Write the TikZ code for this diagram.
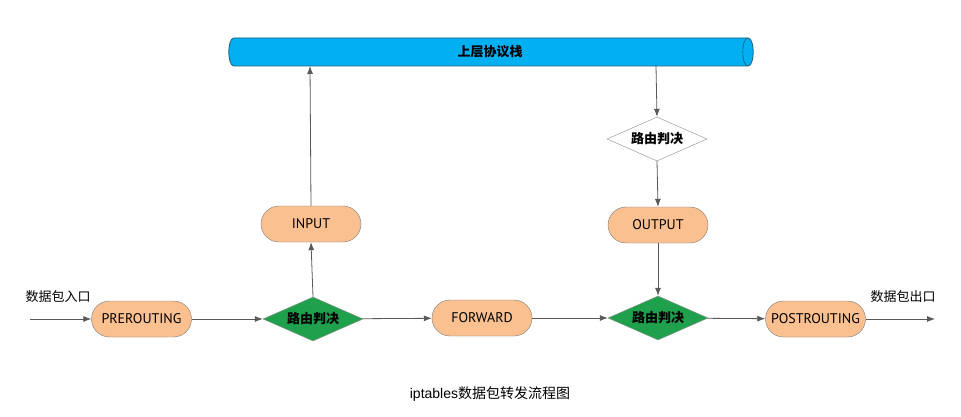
\documentclass[tikz,border=0pt]{standalone}
\usepackage{fontspec}
\setmainfont{Liberation Sans}
\newfontfamily\cjk{Noto Sans CJK SC}
\newfontfamily\boxfont{PT Sans}
\usetikzlibrary{shapes.geometric,arrows.meta}
\definecolor{peach}{HTML}{FAC090}
\definecolor{greendia}{HTML}{1FA04D}
\definecolor{pipe}{HTML}{00B0F0}
\definecolor{pipeedge}{HTML}{1F5F7A}
\definecolor{linec}{HTML}{595959}
\tikzset{
  chain/.style={draw=linec!80, fill=peach, rounded corners=18pt, minimum width=100pt, minimum height=36pt, font=\boxfont\fontsize{14}{16}\selectfont, inner sep=0pt},
  decision/.style={diamond, aspect=2.27, draw=linec!70, minimum width=100pt, minimum height=44pt, inner sep=0pt, font=\cjk\bfseries\fontsize{13}{15}\selectfont},
  conn/.style={draw=linec, line width=0.8pt, -{Latex[length=8pt,width=6pt]}},
  lbl/.style={font=\cjk\fontsize{13}{15}\selectfont, inner sep=0pt}
}
\begin{document}
\begin{tikzpicture}[x=1pt,y=-1pt]
\useasboundingbox (0,0) rectangle (961,417);
% pipe
\draw[draw=pipeedge, fill=pipe, line width=0.8pt] (234,38) -- (748,38) .. controls (755,38) and (755,66) .. (748,66) -- (234,66) .. controls (227,66) and (227,38) .. (234,38) -- cycle;
\draw[draw=pipeedge, line width=0.6pt] (748,38) .. controls (741,38) and (741,66) .. (748,66);
\node[font=\cjk\bfseries\fontsize{13}{15}\selectfont] (stack) at (490,52) {上层协议栈};
\coordinate (stackin) at (310,66);
\coordinate (stackout) at (656,66);
% nodes
\node[chain] (pre) at (141.5,319) {PREROUTING};
\node[decision, fill=greendia] (d1) at (313,319) {路由判决};
\node[chain] (input) at (311,224) {INPUT};
\node[chain] (fwd) at (482,318) {FORWARD};
\node[decision, fill=greendia] (d2) at (658,318) {路由判决};
\node[chain] (output) at (658,225) {OUTPUT};
\node[decision, fill=white] (d3) at (657,139) {路由判决};
\node[chain] (post) at (815.5,319) {POSTROUTING};
\coordinate (inp) at (30,319);
\coordinate (outp) at (935,319);
% labels
\node[lbl] (inl) at (58,297) {数据包入口};
\node[lbl] (outl) at (903,297) {数据包出口};
\node[font=\fontsize{14}{16}\selectfont] (cap) at (490,394) {iptables{\cjk 数据包转发流程图}};
% connectors
\draw[conn] (inp) -- (pre);
\draw[conn] (pre) -- (d1);
\draw[conn] (d1.north) -- (input.south);
\draw[conn] (input.north) -- (stackin);
\draw[conn] (d1) -- (fwd);
\draw[conn] (fwd) -- (d2);
\draw[conn] (stackout) -- (d3.north);
\draw[conn] (d3.south) -- (output.north);
\draw[conn] (output.south) -- (d2.north);
\draw[conn] (d2) -- (post);
\draw[conn] (post) -- (outp);
\end{tikzpicture}
\end{document}
